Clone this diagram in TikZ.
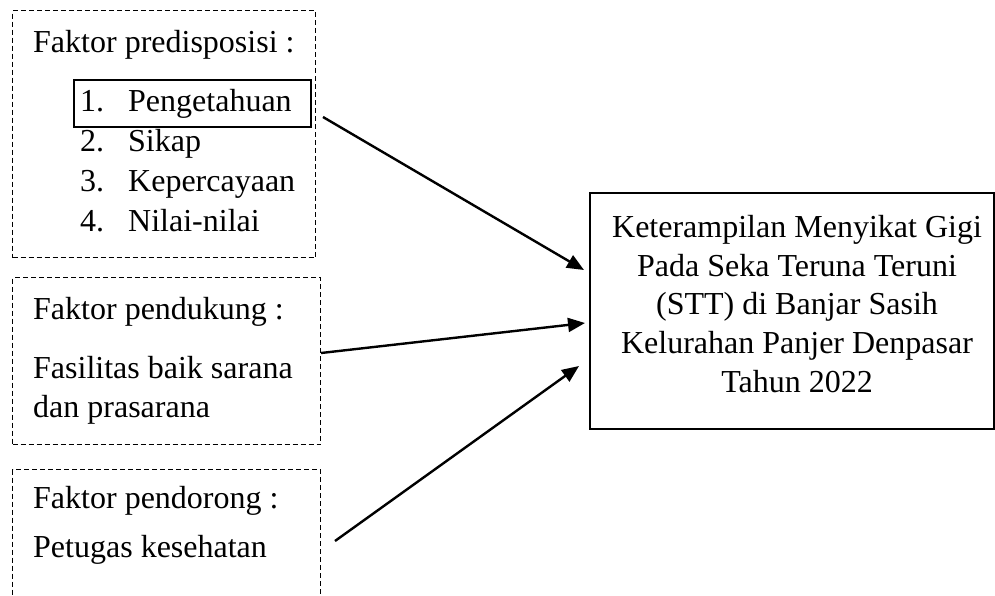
\documentclass[tikz,border=0pt]{standalone}
\usepackage{fontspec}
\setmainfont{Liberation Serif}
\usetikzlibrary{arrows.meta}
\begin{document}
\begin{tikzpicture}[x=1pt,y=-1pt,
  txt/.style={inner sep=0pt, anchor=base west, font=\fontsize{32}{38}\selectfont},
  ctxt/.style={inner sep=0pt, anchor=base, font=\fontsize{32}{38}\selectfont},
  dashbox/.style={draw, line width=1.1pt, dash pattern=on 5pt off 3pt, inner sep=0pt, anchor=north west},
  solidbox/.style={draw, line width=1.8pt, inner sep=0pt, anchor=north west},
  arr/.style={line width=2.4pt, -{Triangle[length=17pt,width=14pt]}}
]
\useasboundingbox (0,0) rectangle (995,595);
\clip (0,0) rectangle (995,595);

% left dashed boxes
\node[dashbox, minimum width=303pt, minimum height=247pt] (box1) at (12,10) {};
\node[dashbox, minimum width=308pt, minimum height=167pt] (box2) at (12,277) {};
\node[dashbox, minimum width=308pt, minimum height=160pt] (box3) at (12,469) {};

% highlighted item
\node[solidbox, minimum width=237pt, minimum height=47pt] (peng) at (73,79) {};

% box 1 texts
\node[txt] (t1) at (33,52) {Faktor predisposisi :};
\node[txt] (n1) at (80,111) {1.};
\node[txt] (i1) at (128,111) {Pengetahuan};
\node[txt] (n2) at (80,151) {2.};
\node[txt] (i2) at (128,151) {Sikap};
\node[txt] (n3) at (80,191) {3.};
\node[txt] (i3) at (128,191) {Kepercayaan};
\node[txt] (n4) at (80,231) {4.};
\node[txt] (i4) at (128,231) {Nilai-nilai};

% box 2 texts
\node[txt] (t2) at (33,319) {Faktor pendukung :};
\node[txt] (t2a) at (33,378) {Fasilitas baik sarana};
\node[txt] (t2b) at (33,417) {dan prasarana};

% box 3 texts
\node[txt] (t3) at (33,508) {Faktor pendorong :};
\node[txt] (t3a) at (33,557) {Petugas kesehatan};

% target box
\node[solidbox, minimum width=404pt, minimum height=236pt] (target) at (589,192) {};
\node[ctxt] (r1) at (797,237) {Keterampilan Menyikat Gigi};
\node[ctxt] (r2) at (797,276) {Pada Seka Teruna Teruni};
\node[ctxt] (r3) at (797,314.5) {(STT) di Banjar Sasih};
\node[ctxt] (r4) at (797,353) {Kelurahan Panjer Denpasar};
\node[ctxt] (r5) at (797,392) {Tahun 2022};

% connector end points
\coordinate (s1) at (323,117);
\coordinate (e1) at (584,270);
\coordinate (s2) at (321,353);
\coordinate (e2) at (585,323);
\coordinate (s3) at (335,541);
\coordinate (e3) at (579,366);

\draw[arr] (s1) -- (e1);
\draw[arr] (s2) -- (e2);
\draw[arr] (s3) -- (e3);
\end{tikzpicture}
\end{document}
